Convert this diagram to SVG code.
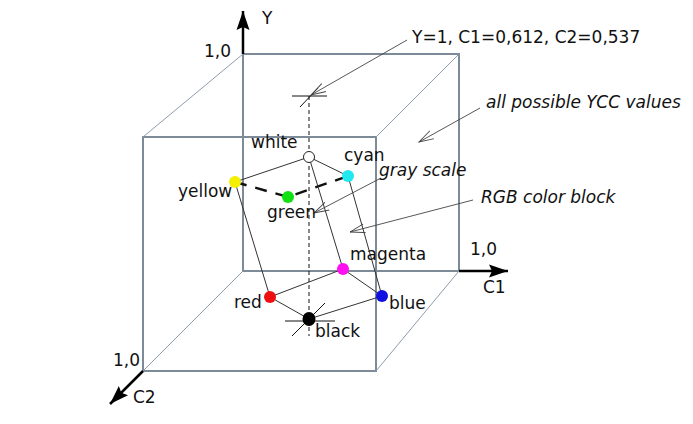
<svg xmlns="http://www.w3.org/2000/svg" width="693" height="424" viewBox="0 0 693 424">
<defs>
<style>
.face{fill:none;stroke:#7d8b99;stroke-width:2}
.diag{fill:none;stroke:#8f9cab;stroke-width:1}
.axis{fill:none;stroke:#000;stroke-width:2.5}
.edge{fill:none;stroke:#333;stroke-width:1}
.hid{fill:none;stroke:#111;stroke-width:2.4;stroke-dasharray:12 9}
.gray{fill:none;stroke:#111;stroke-width:1;stroke-dasharray:4 3}
.tick{fill:none;stroke:#111;stroke-width:1}
.ptr{fill:none;stroke:#444;stroke-width:0.9;marker-end:url(#open)}
text{font-family:"DejaVu Sans","Verdana",sans-serif;font-size:17px;fill:#111}
.it{font-style:italic}
</style>
<marker id="open" markerUnits="userSpaceOnUse" markerWidth="20" markerHeight="12" refX="15" refY="6" orient="auto">
<path d="M0,1.5 L15,6 L0,10.5" fill="none" stroke="#444" stroke-width="0.9"/>
</marker>
<marker id="ah" markerUnits="userSpaceOnUse" markerWidth="22" markerHeight="16" refX="19" refY="8" orient="auto">
<path d="M0,1.5 L19,8 L0,14.5 L3,8 Z" fill="#000"/>
</marker>
</defs>
<g id="cube">
<rect class="face" x="243" y="54" width="216" height="217"/>
<rect class="face" x="143" y="137" width="233" height="234"/>
<line class="diag" x1="143" y1="137" x2="243" y2="54"/>
<line class="diag" x1="376" y1="137" x2="459" y2="54"/>
<line class="diag" x1="376" y1="371" x2="459" y2="271"/>
<line class="diag" x1="143" y1="371" x2="243" y2="271"/>
</g>
<g id="axes">
<line class="axis" x1="243" y1="54" x2="243" y2="11" marker-end="url(#ah)"/>
<line class="axis" x1="459" y1="271" x2="508" y2="271" marker-end="url(#ah)"/>
<line class="axis" x1="143" y1="371" x2="110" y2="404" marker-end="url(#ah)"/>
<text x="262" y="24">Y</text>
<text x="204" y="57">1,0</text>
<text x="470" y="255">1,0</text>
<text x="483" y="293">C1</text>
<text x="113" y="366">1,0</text>
<text x="133" y="403">C2</text>
</g>
<g id="connectors">
<line class="gray" x1="309" y1="96" x2="309" y2="336"/>
<line class="tick" x1="292" y1="96" x2="327" y2="96"/>
<line class="tick" x1="300" y1="107" x2="318" y2="88"/>
<line class="tick" x1="285" y1="321" x2="335" y2="321"/>
<line class="tick" x1="292" y1="336" x2="325" y2="303"/>
<polyline class="hid" points="235,182 288,197 348,176"/>
<line class="edge" x1="309" y1="157" x2="235" y2="182"/>
<line class="edge" x1="309" y1="157" x2="348" y2="176"/>
<line class="edge" x1="309" y1="157" x2="343" y2="269"/>
<line class="edge" x1="348" y1="176" x2="382" y2="296"/>
<line class="edge" x1="235" y1="182" x2="270" y2="297"/>
<line class="edge" x1="270" y1="297" x2="343" y2="269"/>
<line class="edge" x1="343" y1="269" x2="382" y2="296"/>
<line class="edge" x1="270" y1="297" x2="309" y2="319"/>
<line class="edge" x1="382" y1="296" x2="309" y2="319"/>
<line class="ptr" x1="407" y1="40" x2="311" y2="95"/>
<line class="ptr" x1="480" y1="108" x2="419" y2="142"/>
<line class="ptr" x1="381" y1="178" x2="314" y2="213"/>
<line class="ptr" x1="473" y1="200" x2="350" y2="232"/>
</g>
<g id="white"><circle cx="309" cy="157" r="5.5" fill="#fff" stroke="#222" stroke-width="1"/><text x="251" y="148">white</text></g>
<g id="cyan"><circle cx="348" cy="176" r="6" fill="#22e8f0"/><text x="344" y="161">cyan</text></g>
<g id="yellow"><circle cx="235" cy="182" r="6" fill="#f5f000"/><text x="178" y="197">yellow</text></g>
<g id="green"><circle cx="288" cy="197" r="6" fill="#11e011"/><text x="267" y="218">green</text></g>
<g id="magenta"><circle cx="343" cy="269" r="6" fill="#ff10f0"/><text x="350" y="260">magenta</text></g>
<g id="red"><circle cx="270" cy="297" r="6" fill="#ee1010"/><text x="234" y="308">red</text></g>
<g id="blue"><circle cx="382" cy="296" r="6" fill="#1010e0"/><text x="389" y="309">blue</text></g>
<g id="black"><ellipse cx="309" cy="319" rx="6.5" ry="7" fill="#000"/><text x="315" y="337">black</text></g>
<g id="labels">
<text x="412" y="43">Y=1, C1=0,612, C2=0,537</text>
<text class="it" x="486" y="108">all possible YCC values</text>
<text class="it" x="379" y="176">gray scale</text>
<text class="it" x="481" y="203">RGB color block</text>
</g>
</svg>
